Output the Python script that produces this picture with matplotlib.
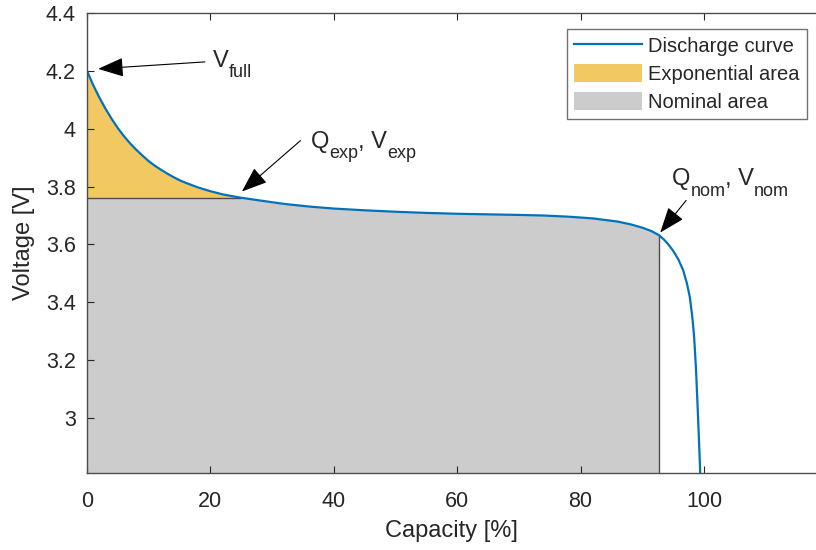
import numpy as np
import matplotlib
matplotlib.use("Agg")
import matplotlib.pyplot as plt
from matplotlib.patches import Patch
from matplotlib.lines import Line2D
from matplotlib.ticker import FormatStrFormatter

plt.rcParams["font.family"] = ["Liberation Sans", "DejaVu Sans"]

# discharge curve: capacity [%] vs voltage [V]
capacity = [0, 1, 2, 3, 4, 5, 6, 7, 8, 9, 10, 11, 12, 13, 14, 15, 16, 18, 20, 22, 24.8,
            28, 32, 36, 40, 45, 50, 55, 60, 65, 70, 74, 78, 82, 86, 88, 90, 91.5, 92.7,
            93.5, 94.3, 95.0, 95.8, 96.6, 97.2, 97.7, 98.1, 98.4, 98.7, 99.0, 99.3, 99.4]
voltage = [4.200, 4.151, 4.108, 4.069, 4.034, 4.002, 3.974, 3.949, 3.927, 3.907, 3.888,
           3.872, 3.858, 3.845, 3.833, 3.822, 3.813, 3.797, 3.784, 3.773, 3.762,
           3.752, 3.740, 3.731, 3.724, 3.718, 3.713, 3.709, 3.706, 3.704, 3.702, 3.700,
           3.696, 3.690, 3.679, 3.670, 3.658, 3.646, 3.632,
           3.617, 3.598, 3.578, 3.550, 3.512, 3.468, 3.418, 3.350, 3.280, 3.170, 3.020,
           2.860, 2.800]

q_exp, v_exp = 24.8, 3.762
q_nom, v_nom = 92.7, 3.632

x_ticks = [0, 20, 40, 60, 80, 100]
y_ticks = [3.0, 3.2, 3.4, 3.6, 3.8, 4.0, 4.2, 4.4]

BLUE = "#0072BD"
YELLOW = "#F2C863"
GREY = "#CCCCCC"
EDGE = "#4D4D4D"
TXT = "#262626"

q = np.array(capacity)
v = np.array(voltage)

fig = plt.figure(figsize=(8.16, 5.5), dpi=100)
ax = fig.add_axes([87 / 816, 77 / 550, 729 / 816, 460 / 550])
ax.set_xlim(0, 118.15)
ax.set_ylim(2.81, 4.4)

# nominal area: under the curve up to Q_nom, capped at V_exp
m = q <= q_nom
ax.fill_between(q[m], 2.0, np.minimum(v[m], v_exp), color=GREY, lw=0)
# exponential area: between V_exp and the curve up to Q_exp
e = q <= q_exp
ax.fill_between(q[e], v_exp, v[e], color=YELLOW, lw=0)
ax.plot([0, q_exp], [v_exp, v_exp], color=EDGE, lw=1.0)
ax.plot([q_nom, q_nom], [2.0, v_nom], color=EDGE, lw=1.0)

ax.plot(q, v, color=BLUE, lw=1.6, solid_capstyle="butt")

renderer = fig.canvas.get_renderer()


def sub_label(x, y, parts, size=17, sub_size=13, drop=7.5):
    """Write text with lowered subscripts, piece by piece, starting at (x, y)."""
    off = 0.0
    for txt, is_sub in parts:
        t = ax.annotate(txt, xy=(x, y), xycoords="data",
                        xytext=(off, -drop if is_sub else 0), textcoords="offset points",
                        fontsize=sub_size if is_sub else size, color=TXT,
                        ha="left", va="baseline")
        off += t.get_window_extent(renderer).width * 72 / fig.dpi


arrow = dict(arrowstyle="-|>,head_length=0.8,head_width=0.3", color="black",
             lw=0.8, mutation_scale=20, shrinkA=0, shrinkB=0)
ax.annotate("", xy=(1.8, 4.207), xytext=(19.1, 4.231), arrowprops=arrow)
sub_label(20.4, 4.215, [("V", False), ("full", True)])

ax.annotate("", xy=(25.1, 3.783), xytext=(34.6, 3.959), arrowprops=arrow)
sub_label(36.3, 3.935, [("Q", False), ("exp", True), (", V", False), ("exp", True)])

ax.annotate("", xy=(92.9, 3.641), xytext=(97.1, 3.752), arrowprops=arrow)
sub_label(94.8, 3.805, [("Q", False), ("nom", True), (", V", False), ("nom", True)])

ax.set_xticks(x_ticks)
ax.set_yticks(y_ticks)
ax.yaxis.set_major_formatter(FormatStrFormatter("%g"))
ax.tick_params(direction="in", length=5, width=0.8, colors=TXT, labelsize=15.5,
               top=True, right=False)
ax.tick_params(axis="x", pad=13)
ax.tick_params(axis="y", pad=8)
for s in ["left", "bottom", "top"]:
    ax.spines[s].set_color(EDGE)
    ax.spines[s].set_linewidth(1.0)
ax.spines["right"].set_visible(False)

ax.set_xlabel("Capacity [%]", fontsize=17, color=TXT, labelpad=6)
ax.set_ylabel("Voltage [V]", fontsize=17, color=TXT, labelpad=8)

handles = [Line2D([], [], color=BLUE, lw=1.6),
           Patch(facecolor=YELLOW, edgecolor="none"),
           Patch(facecolor=GREY, edgecolor="none")]
labels = ["Discharge curve", "Exponential area", "Nominal area"]
leg = ax.legend(handles, labels, loc="upper right", bbox_to_anchor=(0.9877, 0.965),
                borderaxespad=0, fontsize=14.5, frameon=True, fancybox=False,
                handlelength=3.4, handleheight=1.0, handletextpad=0.3,
                labelspacing=0.4, borderpad=0.35)
leg.get_frame().set_edgecolor(EDGE)
leg.get_frame().set_linewidth(1.0)
for t in leg.get_texts():
    t.set_color(TXT)

fig.savefig("out.png", dpi=100)
